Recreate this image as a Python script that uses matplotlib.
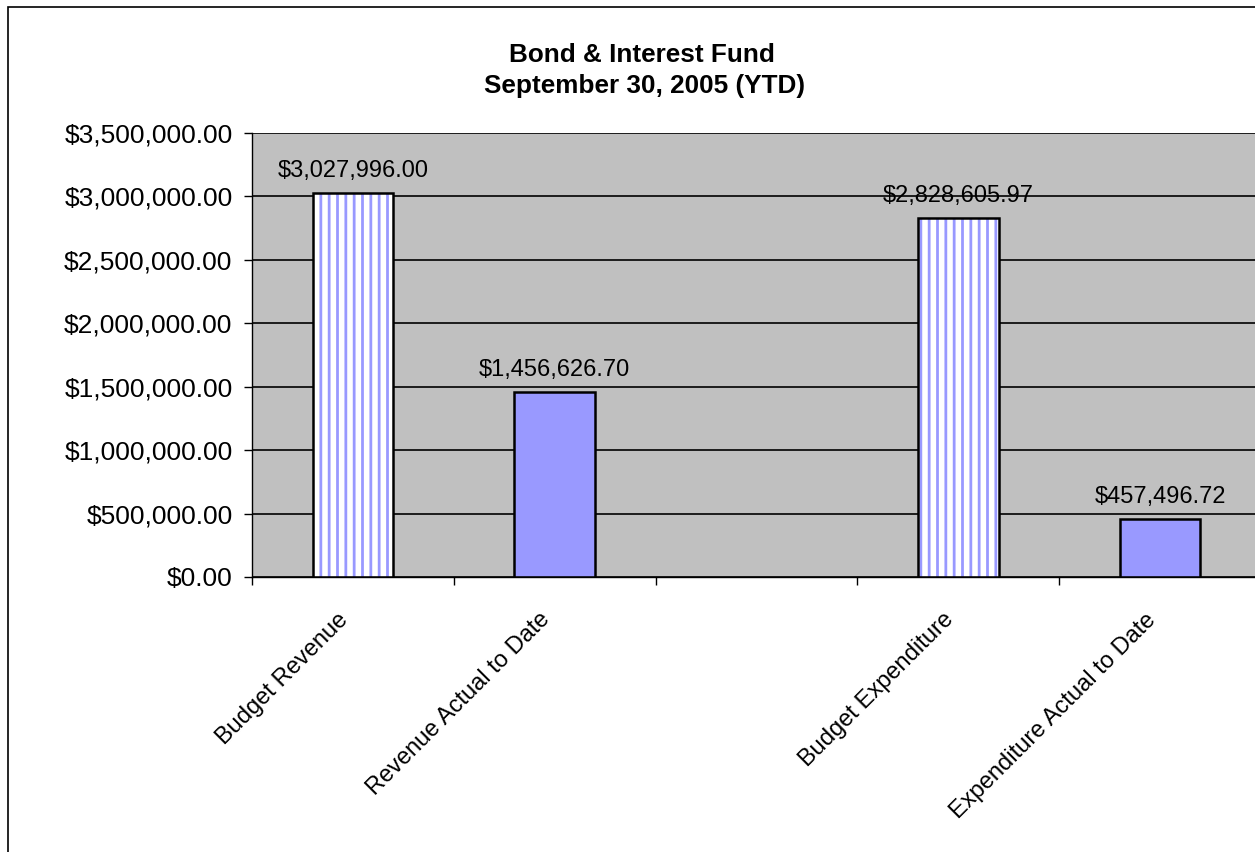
import matplotlib.pyplot as plt
import numpy as np
from matplotlib.patches import Rectangle
from matplotlib.ticker import FuncFormatter, MultipleLocator

plt.rcParams['font.family'] = ['Liberation Sans', 'DejaVu Sans']
plt.rcParams['hatch.linewidth'] = 2.0

# slot 2 is left empty like in the original sheet
categories = ['Budget Revenue', 'Revenue Actual to Date', '',
              'Budget Expenditure', 'Expenditure Actual to Date']
values = [3027996.00, 1456626.70, None, 2828605.97, 457496.72]
budget_flags = [True, False, None, True, False]

fig = plt.figure(figsize=(12.55, 8.52), dpi=100)

# outer chart border (runs off the right and bottom edges)
fig.patches.append(Rectangle((8 / 1255, -0.1), 1.2, 1.1 - 7 / 852,
                             transform=fig.transFigure, fill=False,
                             edgecolor='black', linewidth=1.2))

ax = fig.add_axes([252 / 1255, 275 / 852, 1009 / 1255, 444 / 852])
ax.set_facecolor('#C0C0C0')

x = np.arange(len(categories))
for i, (v, b) in enumerate(zip(values, budget_flags)):
    if v is None:
        continue
    if b:
        ax.bar(x[i], v, width=0.4, facecolor='white', edgecolor='#9999FF',
               hatch='||', linewidth=0)
        ax.bar(x[i], v, width=0.4, fill=False, edgecolor='black', linewidth=1.8)
    else:
        ax.bar(x[i], v, width=0.4, facecolor='#9999FF', edgecolor='black',
               linewidth=1.8)
    ax.annotate('${:,.2f}'.format(v), (x[i], v), xytext=(0, 8),
                textcoords='offset points', ha='center', va='bottom', fontsize=17)

ax.set_xlim(-0.5, len(categories) - 0.5)
ax.set_ylim(0, 3500000)
ax.yaxis.set_major_locator(MultipleLocator(500000))
ax.yaxis.set_major_formatter(FuncFormatter(lambda v, p: '${:,.2f}'.format(v)))
ax.grid(axis='y', color='black', linewidth=1.2)
ax.set_axisbelow(True)

ax.set_xticks(np.arange(len(categories) + 1) - 0.5, minor=False)
ax.set_xticklabels([])
ax.set_xticks(x, minor=True)
ax.set_xticklabels(categories, minor=True, rotation=45, ha='right', va='bottom',
                   rotation_mode='anchor', fontsize=17)
ax.tick_params(axis='x', which='minor', length=0, pad=34)
ax.tick_params(axis='x', which='major', length=6, width=1)
ax.tick_params(axis='y', length=6, width=1, labelsize=19, pad=8)

for s in ['top', 'right']:
    ax.spines[s].set_visible(False)
ax.spines['left'].set_linewidth(1)
ax.spines['bottom'].set_linewidth(1)

fig.text(642 / 1255, 1 - 55 / 852, 'Bond & Interest Fund', ha='center',
         va='center', fontsize=18.8, fontweight='bold')
fig.text(644 / 1255, 1 - 86 / 852, 'September 30, 2005 (YTD)', ha='center',
         va='center', fontsize=18.8, fontweight='bold')

fig.savefig('out.png', dpi=100)
